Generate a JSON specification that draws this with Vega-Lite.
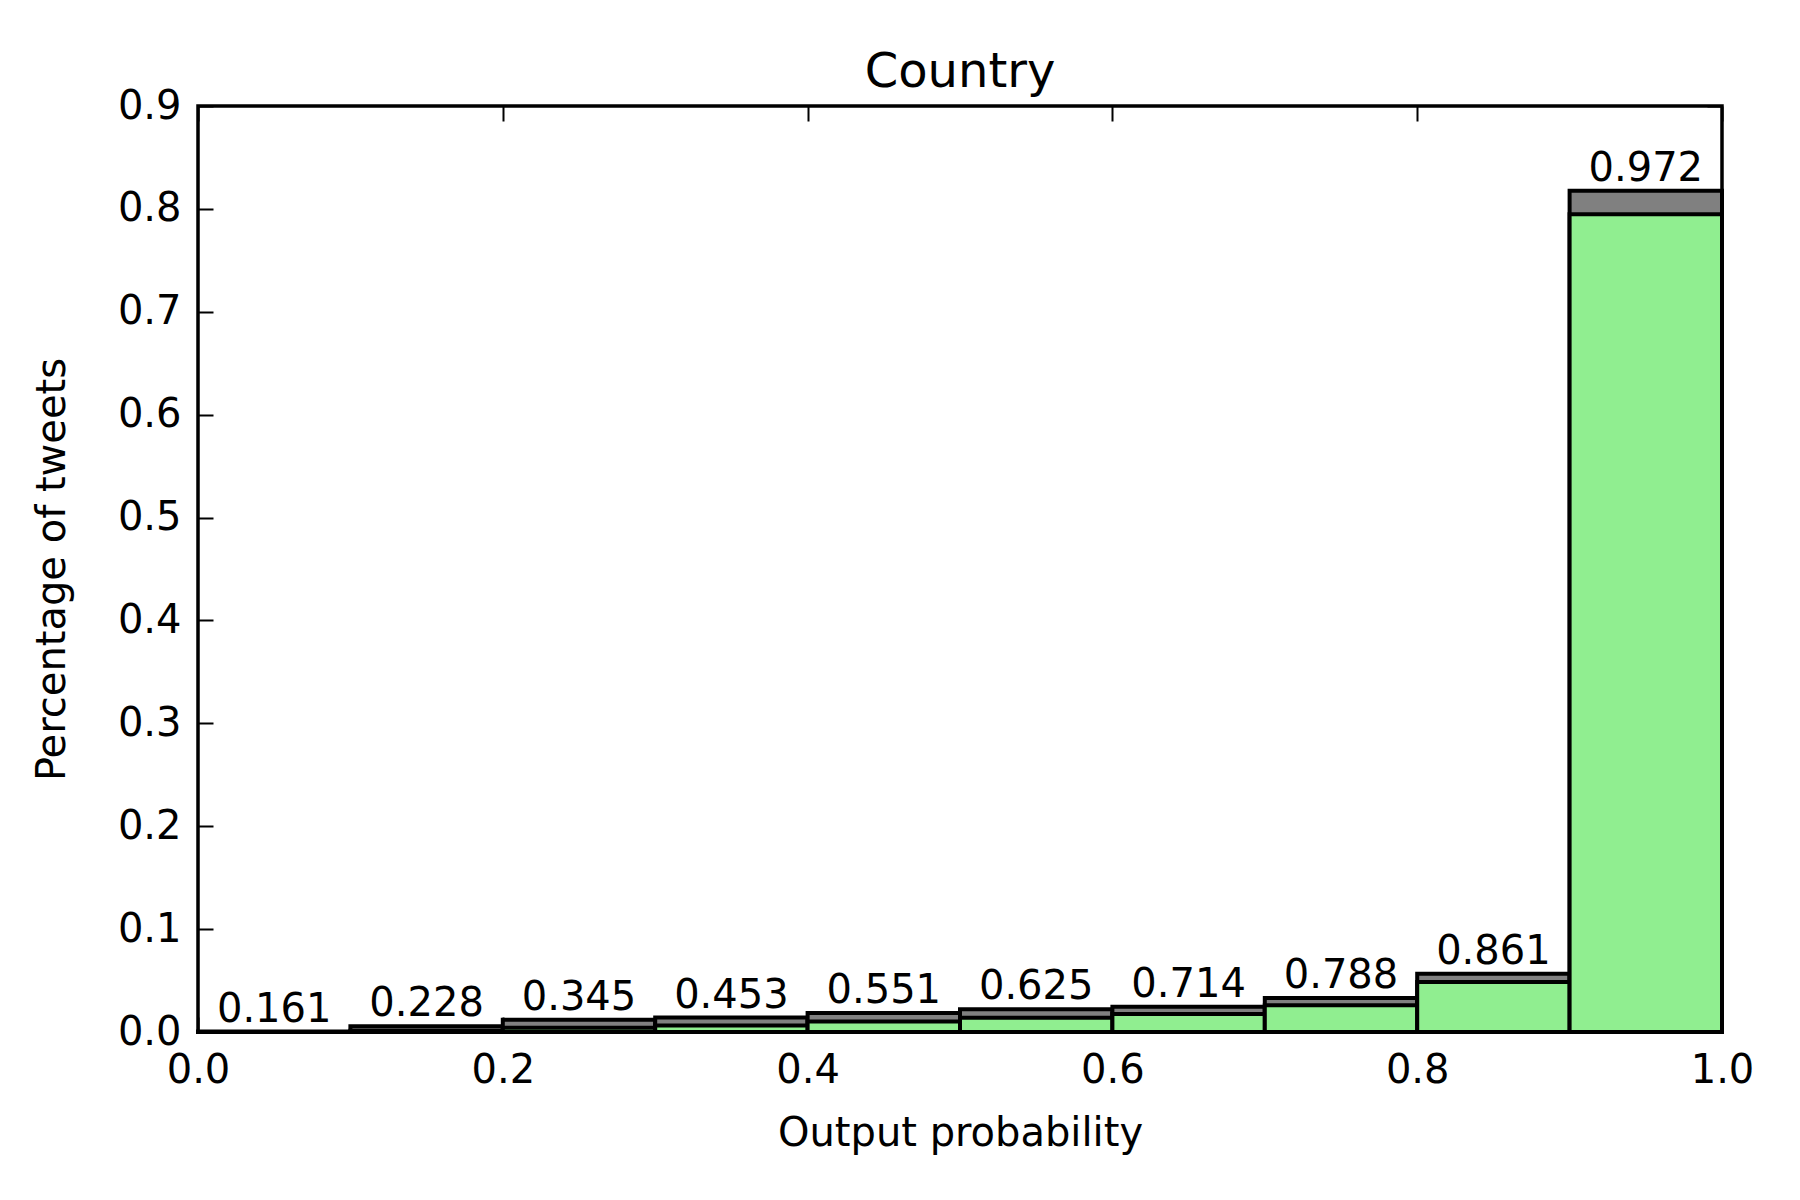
{
  "$schema": "https://vega.github.io/schema/vega-lite/v6.json",
  "width": 1524,
  "height": 926,
  "autosize": {"type": "none"},
  "padding": {"left": 198, "top": 106, "right": 78, "bottom": 168},
  "background": "white",
  "config": {
    "font": "DejaVu Sans",
    "view": {"stroke": "black", "strokeWidth": 3.5},
    "axis": {
      "domain": false,
      "grid": false,
      "tickColor": "black",
      "tickWidth": 2,
      "tickSize": -15,
      "labelFont": "DejaVu Sans",
      "labelFontSize": 40,
      "labelColor": "black",
      "titleFont": "DejaVu Sans",
      "titleFontSize": 40,
      "titleFontWeight": "normal",
      "titleColor": "black"
    }
  },
  "title": {"text": "Country", "fontSize": 48, "fontWeight": "normal", "font": "DejaVu Sans", "color": "black", "offset": -11},
  "data": {
    "values": [
      {"bin_start": 0.0, "bin_end": 0.1, "bin_mid": 0.05, "total": 0.0004, "correct": 0.0001, "accuracy": 0.161},
      {"bin_start": 0.1, "bin_end": 0.2, "bin_mid": 0.15, "total": 0.0055, "correct": 0.0013, "accuracy": 0.228},
      {"bin_start": 0.2, "bin_end": 0.3, "bin_mid": 0.25, "total": 0.0118, "correct": 0.0041, "accuracy": 0.345},
      {"bin_start": 0.3, "bin_end": 0.4, "bin_mid": 0.35, "total": 0.0140, "correct": 0.0063, "accuracy": 0.453},
      {"bin_start": 0.4, "bin_end": 0.5, "bin_mid": 0.45, "total": 0.0185, "correct": 0.0102, "accuracy": 0.551},
      {"bin_start": 0.5, "bin_end": 0.6, "bin_mid": 0.55, "total": 0.0220, "correct": 0.0138, "accuracy": 0.625},
      {"bin_start": 0.6, "bin_end": 0.7, "bin_mid": 0.65, "total": 0.0245, "correct": 0.0175, "accuracy": 0.714},
      {"bin_start": 0.7, "bin_end": 0.8, "bin_mid": 0.75, "total": 0.0330, "correct": 0.0260, "accuracy": 0.788},
      {"bin_start": 0.8, "bin_end": 0.9, "bin_mid": 0.85, "total": 0.0565, "correct": 0.0486, "accuracy": 0.861},
      {"bin_start": 0.9, "bin_end": 1.0, "bin_mid": 0.95, "total": 0.8176, "correct": 0.7947, "accuracy": 0.972}
    ]
  },
  "layer": [
    {
      "mark": {"type": "bar", "color": "#808080", "stroke": "black", "strokeWidth": 4},
      "encoding": {
        "x": {"field": "bin_start", "type": "quantitative", "scale": {"domain": [0, 1], "nice": false}, "axis": {"orient": "bottom", "values": [0, 0.2, 0.4, 0.6, 0.8, 1.0], "format": ".1f", "labelPadding": 33, "title": "Output probability", "titlePadding": 23, "labelFlush": false}},
        "x2": {"field": "bin_end"},
        "y": {"field": "total", "type": "quantitative", "scale": {"domain": [0, 0.9], "nice": false}, "axis": {"orient": "left", "values": [0, 0.1, 0.2, 0.3, 0.4, 0.5, 0.6, 0.7, 0.8, 0.9], "format": ".1f", "labelPadding": 32, "title": "Percentage of tweets", "titlePadding": 45}},
        "y2": {"datum": 0}
      }
    },
    {
      "mark": {"type": "bar", "color": "#90EE90", "stroke": "black", "strokeWidth": 4},
      "encoding": {
        "x": {"field": "bin_start", "type": "quantitative", "axis": {"orient": "top", "values": [0, 0.2, 0.4, 0.6, 0.8, 1.0], "labels": false, "title": null}},
        "x2": {"field": "bin_end"},
        "y": {"field": "correct", "type": "quantitative", "axis": {"orient": "right", "values": [0, 0.1, 0.2, 0.3, 0.4, 0.5, 0.6, 0.7, 0.8, 0.9], "labels": false, "title": null}},
        "y2": {"datum": 0}
      }
    },
    {
      "mark": {"type": "text", "fontSize": 40, "font": "DejaVu Sans", "color": "black", "align": "center", "baseline": "alphabetic", "dy": -10},
      "encoding": {
        "x": {"field": "bin_mid", "type": "quantitative", "axis": null},
        "y": {"field": "total", "type": "quantitative", "axis": null},
        "text": {"field": "accuracy", "type": "quantitative", "format": ".3f"}
      }
    }
  ],
  "resolve": {"axis": {"x": "independent", "y": "independent"}}
}
